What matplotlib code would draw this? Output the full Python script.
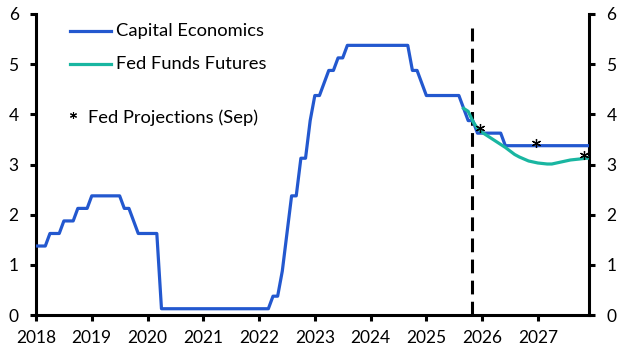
import matplotlib
matplotlib.use("Agg")
import matplotlib.pyplot as plt
from matplotlib.lines import Line2D
import numpy as np

plt.rcParams['font.family'] = ['Lato', 'DejaVu Sans']

# ---- data (monthly, first month Jan 2018) ----
years = list(range(2018, 2028))
cap_2018 = [1.375, 1.375, 1.375, 1.625, 1.625, 1.625, 1.875, 1.875, 1.875, 2.125, 2.125, 2.125]
cap_2019 = [2.375, 2.375, 2.375, 2.375, 2.375, 2.375, 2.375, 2.125, 2.125, 1.875, 1.625, 1.625]
cap_2020 = [1.625, 1.625, 1.625, 0.125, 0.125, 0.125, 0.125, 0.125, 0.125, 0.125, 0.125, 0.125]
cap_2021 = [0.125, 0.125, 0.125, 0.125, 0.125, 0.125, 0.125, 0.125, 0.125, 0.125, 0.125, 0.125]
cap_2022 = [0.125, 0.125, 0.125, 0.375, 0.375, 0.875, 1.625, 2.375, 2.375, 3.125, 3.125, 3.875]
cap_2023 = [4.375, 4.375, 4.625, 4.875, 4.875, 5.125, 5.125, 5.375, 5.375, 5.375, 5.375, 5.375]
cap_2024 = [5.375, 5.375, 5.375, 5.375, 5.375, 5.375, 5.375, 5.375, 5.375, 4.875, 4.875, 4.625]
cap_2025 = [4.375, 4.375, 4.375, 4.375, 4.375, 4.375, 4.375, 4.375, 4.125, 3.875, 3.875, 3.625]
cap_2026 = [3.625, 3.625, 3.625, 3.625, 3.625, 3.375, 3.375, 3.375, 3.375, 3.375, 3.375, 3.375]
cap_2027 = [3.375, 3.375, 3.375, 3.375, 3.375, 3.375, 3.375, 3.375, 3.375, 3.375, 3.375, 3.375]
capital_economics = (cap_2018 + cap_2019 + cap_2020 + cap_2021 + cap_2022 +
                     cap_2023 + cap_2024 + cap_2025 + cap_2026 + cap_2027)

# Fed funds futures, monthly from Sep 2025 to Dec 2027
futures_start = (2025, 9)
fed_funds_futures = [4.12, 4.06, 3.86, 3.72,
                     3.64, 3.58, 3.52, 3.46, 3.40, 3.34, 3.27, 3.20, 3.15, 3.11, 3.07, 3.05,
                     3.03, 3.02, 3.01, 3.01, 3.03, 3.05, 3.07, 3.09, 3.10, 3.11, 3.12, 3.13]

# Fed projections (Sep), as drawn
proj_x = [2025.97, 2026.96, 2027.82]
proj_y = [3.72, 3.42, 3.19]

forecast_line_x = 2025.82
forecast_line_top = 5.73

y_ticks = [0, 1, 2, 3, 4, 5, 6]
x_tick_labels = ['2018', '2019', '2020', '2021', '2022', '2023', '2024', '2025', '2026', '2027']

BLUE = '#2358CF'
TEAL = '#19B6A1'

# ---- positions ----
def month_pos(y0, m0, n):
    return [y0 + (m0 - 1 + i) / 12.0 for i in range(n)]

x_cap = month_pos(2018, 1, len(capital_economics))
x_fut = month_pos(futures_start[0], futures_start[1], len(fed_funds_futures))

W, H = 627, 358
fig = plt.figure(figsize=(W / 100, H / 100), dpi=100)
ax = fig.add_axes([36 / W, 1 - 315 / H, (589 - 36) / W, (315 - 14) / H])

ax.plot(x_cap, capital_economics, color=BLUE, lw=2.3, solid_joinstyle='round', zorder=3)
ax.plot(x_fut, fed_funds_futures, color=TEAL, lw=2.3, solid_joinstyle='round', zorder=4)
ax.plot([forecast_line_x, forecast_line_x], [0, forecast_line_top], color='black',
        lw=2.2, dashes=(4.5, 2.4), zorder=2)
ax.plot(proj_x, proj_y, ls='none', marker=(6, 2, 0), ms=6.5, mew=0.9, color='black', zorder=5)

ax.set_xlim(2018, 2027 + 11 / 12)
ax.set_ylim(0, 6)
ax.set_xticks([int(t) for t in x_tick_labels])
ax.set_xticklabels(x_tick_labels)
ax.set_yticks(y_ticks)

for s in ['left', 'right', 'bottom']:
    ax.spines[s].set_linewidth(2.2)
    ax.spines[s].set_color('black')
ax.spines['top'].set_visible(False)

ax.tick_params(axis='both', which='both', direction='out', length=4.5, width=2.2,
               labelsize=12.5, colors='black')
ax.tick_params(axis='y', pad=8, left=True, right=True, labelleft=True, labelright=True)
ax.tick_params(axis='x', pad=6)

# ---- legend (manual) ----
fs_leg = 13.2
fig.add_artist(Line2D([70 / W, 111 / W], [1 - 31 / H, 1 - 31 / H], color=BLUE, lw=2.3,
                      transform=fig.transFigure))
fig.text(116 / W, 1 - 31 / H, 'Capital Economics', fontsize=fs_leg, va='center', ha='left')
fig.add_artist(Line2D([70 / W, 111 / W], [1 - 64 / H, 1 - 64 / H], color=TEAL, lw=2.3,
                      transform=fig.transFigure))
fig.text(116 / W, 1 - 64 / H, 'Fed Funds Futures', fontsize=fs_leg, va='center', ha='left')
fig.add_artist(Line2D([73 / W], [1 - 115 / H], ls='none', marker=(6, 2, 0), ms=5, mew=0.8,
                      color='black', transform=fig.transFigure))
fig.text(88 / W, 1 - 118 / H, 'Fed Projections (Sep)', fontsize=fs_leg, va='center', ha='left')

fig.savefig('out.png', dpi=100)
